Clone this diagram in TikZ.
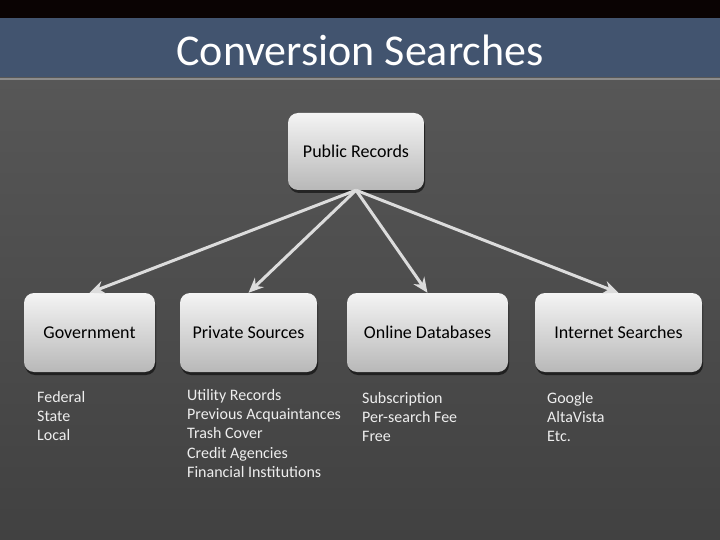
\documentclass[tikz,border=0pt]{standalone}
\usepackage{fontspec}
\setmainfont{Carlito}
\usetikzlibrary{arrows.meta,shadows}
\definecolor{topband}{HTML}{0A0303}
\definecolor{titleblue}{HTML}{42546F}
\definecolor{bgtop}{HTML}{575757}
\definecolor{bgbot}{HTML}{414141}
\definecolor{bevel}{HTML}{8C8C8C}
\definecolor{boxtop}{HTML}{F4F4F4}
\definecolor{boxbot}{HTML}{B8B8B8}
\definecolor{arrowgray}{HTML}{DCDCDC}
\definecolor{listgray}{HTML}{EEEEEE}
\begin{document}
\begin{tikzpicture}[x=1pt,y=-1pt,
  box/.style={rounded corners=10pt, top color=boxtop, bottom color=boxbot,
    drop shadow={shadow xshift=1pt, shadow yshift=-3pt, opacity=0.55, fill=black},
    font=\fontsize{18}{22}\selectfont, text=black, inner sep=0pt},
  conn/.style={draw=arrowgray, line width=3pt, -{Stealth[length=15pt,width=13pt,inset=5pt]}},
  listtext/.style={align=left, anchor=north west, inner sep=0pt, text=listgray,
    font=\fontsize{16}{19.3}\selectfont}]
\useasboundingbox (0,0) rectangle (720,540);
% background
\fill[topband] (0,0) rectangle (720,18);
\fill[titleblue] (0,18) rectangle (720,78);
\shade[top color=bgtop, bottom color=bgbot] (0,78) rectangle (720,540);
\fill[bevel] (0,78) rectangle (720,80);
\node[text=white, font=\fontsize{44}{50}\selectfont] (title) at (360,50) {Conversion Searches};
% boxes
\node[box, minimum width=136pt, minimum height=77pt] (pr) at (356,151.5) {Public Records};
\node[box, minimum width=131pt, minimum height=79pt] (gov) at (89.5,332.5) {Government};
\node[box, minimum width=137pt, minimum height=79pt] (priv) at (248.5,332.5) {Private Sources};
\node[box, minimum width=161pt, minimum height=79pt] (onl) at (427.5,332.5) {Online Databases};
\node[box, minimum width=167pt, minimum height=79pt] (inet) at (618.5,332.5) {Internet Searches};
% connectors
\draw[conn] (pr.south) -- (gov.north);
\draw[conn] (pr.south) -- (priv.north);
\draw[conn] (pr.south) -- (onl.north);
\draw[conn] (pr.south) -- (inet.north);
% lists
\node[listtext] (govlist) at (37,391) {Federal\\State\\Local};
\node[listtext] (privlist) at (187,389) {Utility Records\\Previous Acquaintances\\Trash Cover\\Credit Agencies\\Financial Institutions};
\node[listtext] (onllist) at (362,392) {Subscription\\Per-search Fee\\Free};
\node[listtext] (inetlist) at (547,392) {Google\\AltaVista\\Etc.};
\end{tikzpicture}
\end{document}
